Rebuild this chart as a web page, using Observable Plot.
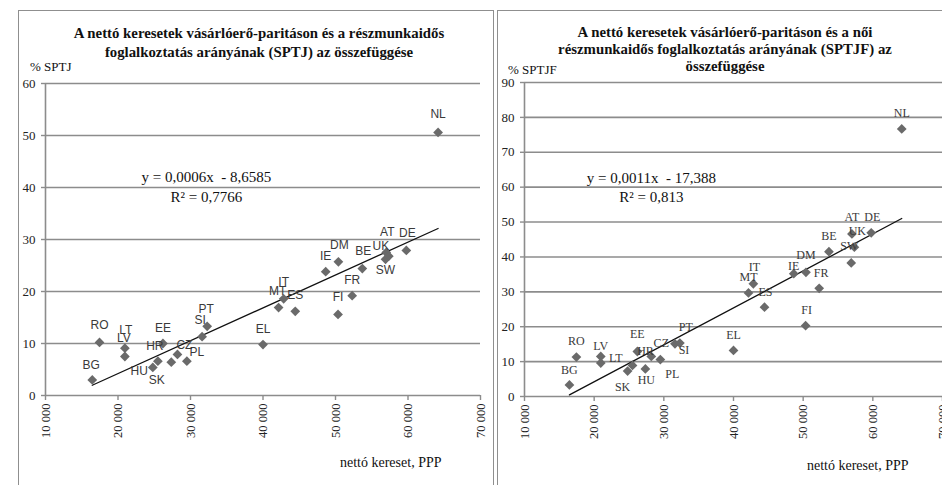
<!DOCTYPE html>
<html><head><meta charset="utf-8">
<script src="https://cdn.jsdelivr.net/npm/d3@7"></script>
<script src="https://cdn.jsdelivr.net/npm/@observablehq/plot@0.6"></script>
<style>
body{margin:0;background:#fff;}
#wrap{position:relative;width:942px;height:485px;overflow:hidden;font-family:"Liberation Serif","Times New Roman",serif;color:#111;}
.panel{position:absolute;border:1.5px solid #8f8f8f;box-sizing:border-box;}
.title{position:absolute;font-weight:bold;font-size:14.8px;text-align:center;white-space:nowrap;color:#111;}
.lab{position:absolute;font-size:13px;white-space:nowrap;}
.xlab{position:absolute;font-size:14px;white-space:nowrap;}
.fig{position:absolute;top:0;}
.fig svg{max-width:none !important;}
</style></head><body>
<div id="wrap">
  <div class="panel" style="left:18px;top:10px;width:476px;height:500px;"></div>
  <div class="panel" style="left:497px;top:10px;width:470px;height:500px;"></div>
  <div class="fig" id="left" style="left:0px;width:493px;"></div>
  <div class="fig" id="right" style="left:498px;width:460px;"></div>
  <div class="title" style="left:60px;width:398px;top:24px;line-height:19px;">A nettó keresetek vásárlóerő-paritáson és a részmunkaidős<br>foglalkoztatás arányának (SPTJ) az összefüggése</div>
  <div class="title" style="left:525px;width:400px;top:24px;line-height:17px;">A nettó keresetek vásárlóerő-paritáson és a női<br>részmunkaidős foglalkoztatás arányának (SPTJF) az<br>összefüggése</div>
  <div class="lab" style="left:30px;top:59px;">% SPTJ</div>
  <div class="lab" style="left:508px;top:62px;">% SPTJF</div>
  <div class="xlab" style="left:340px;top:455px;">nettó kereset, PPP</div>
  <div class="xlab" style="left:807px;top:458px;">nettó kereset, PPP</div>
</div>
<script>
// ---- data ----
const countries = ["BG","RO","LT","LV","SK","HR","EE","HU","CZ","PL","SI","PT","EL","MT","IT","ES","IE","FI","DM","FR","BE","SW","AT","UK","DE","NL"];
const earnings  = [16450,17450,20950,20950,24800,25500,26200,27350,28200,29500,31600,32300,40000,42150,42850,44450,48650,50350,50400,52300,53700,56900,57000,57350,59770,64150];
const sptj      = [3.0,10.2,9.1,7.5,5.4,6.6,10.0,6.4,7.9,6.6,11.3,13.3,9.8,16.9,18.6,16.2,23.8,15.6,25.7,19.2,24.4,26.2,27.5,26.8,27.9,50.6];
const sptjf     = [3.3,11.3,9.6,11.5,7.3,8.9,12.9,7.9,11.5,10.6,15.1,15.3,13.2,29.7,32.3,25.6,35.2,20.3,35.6,31.0,41.5,38.3,46.6,42.8,46.9,76.7];
const xTicks = [10000,20000,30000,40000,50000,60000,70000];
const yTicksL = [0,10,20,30,40,50,60];
const yTicksR = [0,10,20,30,40,50,60,70,80,90];
const eqLeft  = ["y = 0,0006x \u00a0- 8,6585", "R² = 0,7766"];
const eqRight = ["y = 0,0011x \u00a0- 17,388", "R² = 0,813"];

// ---- layout config (label nudges in px) ----
const nudgeL = {BG:[-1,-15],RO:[0,-17],LT:[1,-18],LV:[-1,-18],SK:[4,13],HR:[-3,-15],EE:[0,-15],HU:[-32,9],CZ:[7,-9],PL:[10,-9],SI:[-2,-17],PT:[-1,-17],EL:[0,-15],MT:[-1,-16],IT:[0,-17],ES:[0,-16],IE:[0,-16],FI:[0,-17],DM:[1,-17],FR:[0,-16],BE:[1,-17],SW:[0,11],UK:[-8,-10],AT:[1,-20],DE:[1,-17],NL:[0,-18]};
const nudgeR = {BG:[0,-15],RO:[0,-16],LV:[0,-10],LT:[15,-5],SK:[-5,16],HR:[13,-14],EE:[0,-17],HU:[1,11],CZ:[10,-13],PL:[12,15],SI:[9,6],PT:[6,-16],EL:[0,-15],MT:[0,-16],IT:[1,-17],ES:[1,-15],IE:[0,-8],FI:[1,-16],DM:[0,-17],FR:[2,-15],BE:[0,-16],SW:[-2,-17],UK:[3,-16],AT:[0,-17],DE:[1,-16],NL:[0,-16]};

const idx = countries.map((_, i) => i);
const fmt = d => d3.format(",")(d).replace(/,/g, " ");
const grid = "#8c8c8c";
const serif = "Liberation Serif, Times New Roman, serif";

function chart({ys, yDomain, yTicks, nudge, eq, eqX, eqY, width, mL, mR, mT, mB, labelFont}) {
  return Plot.plot({
    width, height: 485,
    marginLeft: mL, marginRight: mR, marginTop: mT, marginBottom: mB,
    style: {fontFamily: serif, fontSize: "13px", color: "#222", background: "transparent"},
    x: {domain: [10000, 70000], label: null},
    y: {domain: yDomain, label: null},
    marks: [
      Plot.gridY(yTicks, {stroke: grid, strokeOpacity: 1, strokeWidth: 1.6}),
      Plot.ruleX([10000], {stroke: grid, strokeWidth: 1.6}),
      Plot.axisX({ticks: xTicks, tickFormat: fmt, tickRotate: -90, tickSize: 5, tickPadding: 3, fontSize: 12.5, fontFamily: serif, fill: "#222", stroke: grid, strokeWidth: 1.4, label: null}),
      Plot.axisY({ticks: yTicks, tickSize: 4, tickPadding: 6, fontSize: 13, fontFamily: serif, fill: "#222", stroke: grid, strokeWidth: 1.4, label: null}),
      Plot.linearRegressionY(idx, {x: i => earnings[i], y: i => ys[i], ci: 0, stroke: "#111", strokeWidth: 1.3}),
      Plot.dot(idx, {x: i => earnings[i], y: i => ys[i], symbol: "diamond2", fill: "#6a6a6a", stroke: "none", r: 4.4}),
      ...idx.map(i => Plot.text([i], {x: i => earnings[i], y: i => ys[i], text: i => countries[i],
          dx: nudge[countries[i]][0], dy: nudge[countries[i]][1], fill: "#3a3a3a",
          fontFamily: labelFont, fontSize: 12})),
      Plot.text([0], {x: eqX, y: eqY[0], text: () => eq[0], fontSize: 15, fontFamily: serif, fill: "#111"}),
      Plot.text([0], {x: eqX, y: eqY[1], text: () => eq[1], fontSize: 15, fontFamily: serif, fill: "#111"})
    ]
  });
}

document.getElementById("left").append(chart({
  ys: sptj, yDomain: [0, 60], yTicks: yTicksL, nudge: nudgeL, eq: eqLeft, eqX: 32200, eqY: [42, 38.1],
  width: 493, mL: 45, mR: 13, mT: 83, mB: 90, labelFont: "Liberation Sans, Arial, sans-serif"
}));
document.getElementById("right").append(chart({
  ys: sptjf, yDomain: [0, 90], yTicks: yTicksR, nudge: nudgeR, eq: eqRight, eqX: 28220, eqY: [62.5, 57],
  width: 460, mL: 26, mR: 16, mT: 82, mB: 89, labelFont: serif
}));
</script>
</body></html>
